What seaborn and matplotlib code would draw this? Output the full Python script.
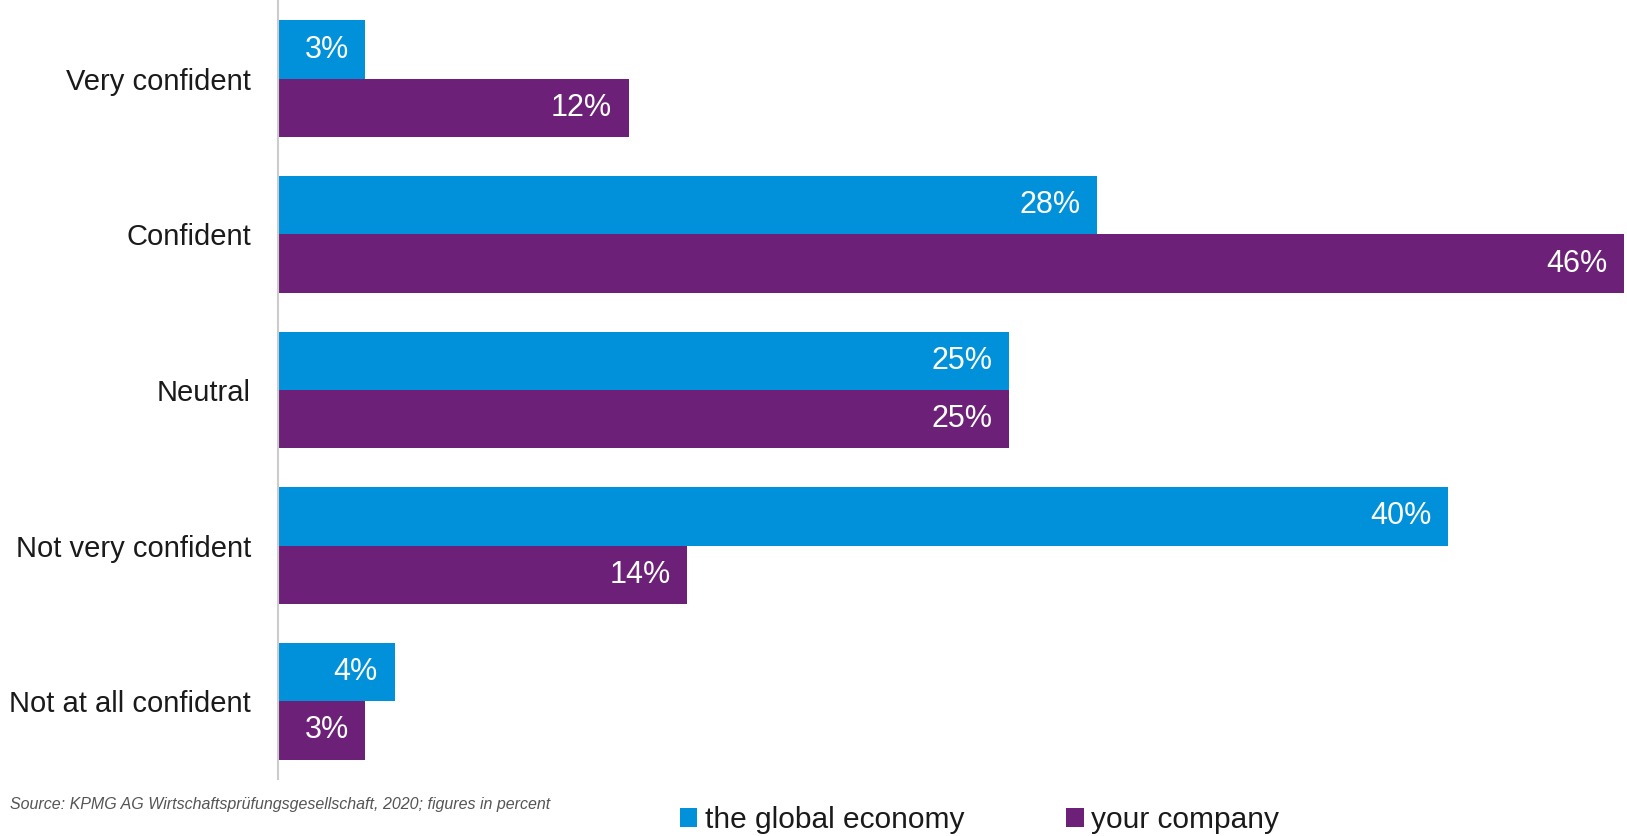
import matplotlib
matplotlib.use("Agg")
import matplotlib.pyplot as plt
from matplotlib.patches import Patch
import seaborn as sns
import pandas as pd

categories = ["Very confident", "Confident", "Neutral", "Not very confident", "Not at all confident"]
global_economy = [3, 28, 25, 40, 4]
your_company = [12, 46, 25, 14, 3]
series_names = ["the global economy", "your company"]
colors = ["#0091DA", "#6D2077"]
source_text = "Source: KPMG AG Wirtschaftsprüfungsgesellschaft, 2020; figures in percent"

df = pd.DataFrame({
    "category": categories * 2,
    "value": global_economy + your_company,
    "series": [series_names[0]] * len(categories) + [series_names[1]] * len(categories),
})

sns.set_theme(style="white")
plt.rcParams["font.family"] = ["Liberation Sans", "DejaVu Sans"]

fig = plt.figure(figsize=(16.27, 8.36), dpi=100)
ax = fig.add_axes([277.5 / 1627, 1 - 779 / 836, (1624 - 277.5) / 1627, (779 - 1) / 836])

sns.barplot(data=df, y="category", x="value", hue="series", order=categories,
            hue_order=series_names, palette=colors, orient="h", width=0.75,
            saturation=1, legend=False, ax=ax, edgecolor="none")

ax.set_xlim(0, 46)
ax.set_ylim(len(categories) - 0.5, -0.5)
for s in ["top", "right", "bottom"]:
    ax.spines[s].set_visible(False)
ax.spines["left"].set_color("#cccccc")
ax.spines["left"].set_linewidth(1.5)
ax.set_xticks([])
ax.set_xlabel("")
ax.set_ylabel("")
ax.tick_params(axis="y", length=0, pad=19, labelsize=21, labelcolor="#1a1a1a")

for cont in ax.containers:
    for p in cont:
        w = p.get_width()
        ax.annotate(f"{w:.0f}%", xy=(w, p.get_y() + p.get_height() / 2),
                    xytext=(-12, 0), textcoords="offset points",
                    ha="right", va="center", color="white", fontsize=22)

fig.text(10 / 1627, 1 - 805 / 836, source_text, fontsize=11.5, style="italic",
         color="#555555", ha="left", va="center")

handles = [Patch(facecolor=c, edgecolor="none") for c in colors]
fig.legend(handles, series_names, loc="center", bbox_to_anchor=(0.602, 1 - 820 / 836),
           ncol=2, frameon=False, fontsize=21.5, handlelength=0.6, handleheight=0.6,
           handletextpad=0.25, columnspacing=3.4, labelcolor="#1a1a1a")

fig.savefig("out.png", dpi=100)
